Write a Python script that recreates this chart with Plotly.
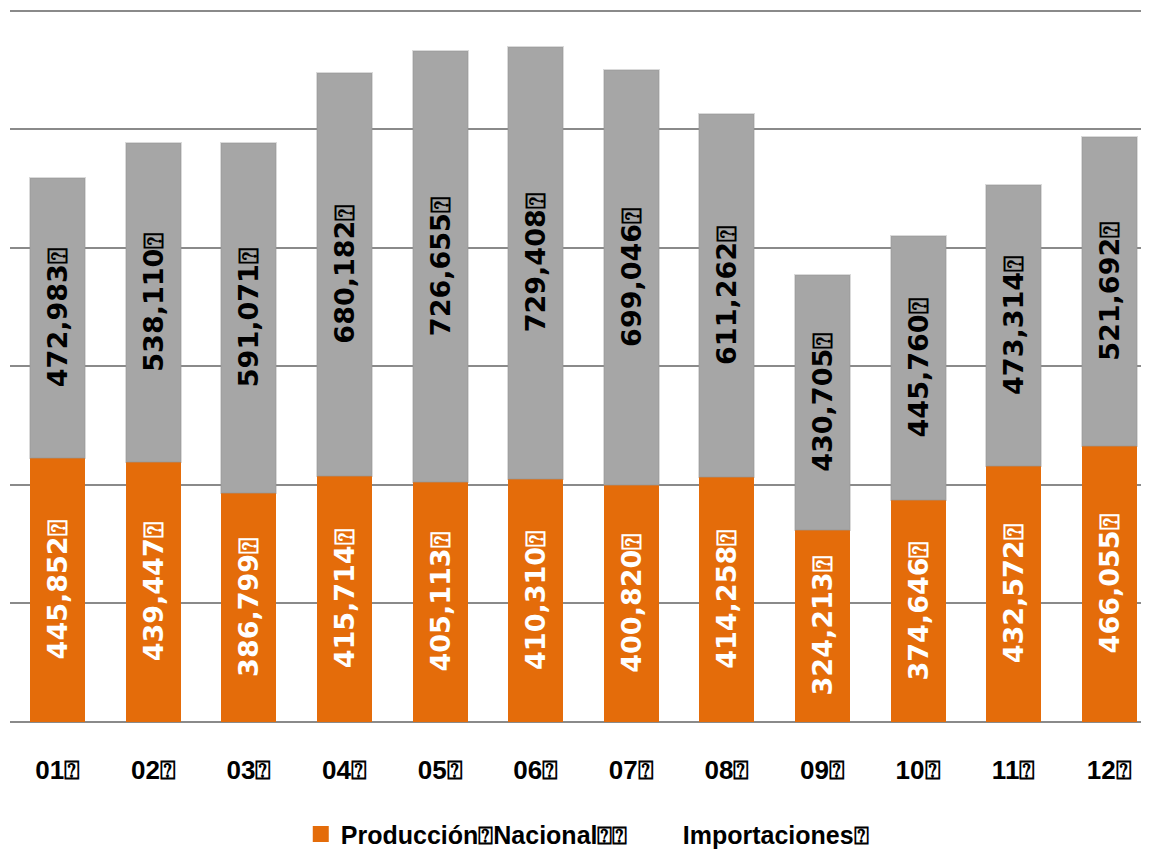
import plotly.graph_objects as go

Q = "\u2370"  # boxed question mark, as rendered in the source

months = ["01", "02", "03", "04", "05", "06", "07", "08", "09", "10", "11", "12"]
produccion = [445852, 439447, 386799, 415714, 405113, 410310,
              400820, 414258, 324213, 374646, 432572, 466055]
importaciones = [472983, 538110, 591071, 680182, 726655, 729408,
                 699046, 611262, 430705, 445760, 473314, 521692]

cats = [m + Q for m in months]
ORANGE = "#E46C0A"
GRAY = "#A6A6A6"
label_font = "DejaVu Sans, Verdana, sans-serif"
cat_font = "Liberation Sans Narrow, Arial Narrow, sans-serif"

fig = go.Figure()
fig.add_trace(go.Bar(
    x=cats, y=produccion, showlegend=False,
    marker=dict(color=ORANGE, line=dict(width=0)),
    text=[f"{v:,}{Q}" for v in produccion],
    textposition="inside", insidetextanchor="middle", textangle=-90,
    textfont=dict(family=label_font, size=27, color="white", weight="bold"),
    constraintext="none",
))
fig.add_trace(go.Bar(
    x=cats, y=importaciones, showlegend=False,
    marker=dict(color=GRAY, line=dict(width=2, color="rgba(150,150,150,0.35)")),
    text=[f"{v:,}{Q}" for v in importaciones],
    textposition="inside", insidetextanchor="middle", textangle=-90,
    textfont=dict(family=label_font, size=27, color="black", weight="bold"),
    constraintext="none",
))
# legend entries
fig.add_trace(go.Scatter(
    x=[None], y=[None], mode="markers", name="Producción" + Q + "Nacional" + Q + Q,
    marker=dict(symbol="square", size=18, color=ORANGE),
))
fig.add_trace(go.Scatter(
    x=[None], y=[None], mode="markers", name="Importaciones" + Q,
    marker=dict(symbol="square", size=18, color="rgba(0,0,0,0)"),
))

fig.update_layout(
    width=1149, height=850,
    barmode="stack", bargap=0.425,
    plot_bgcolor="white", paper_bgcolor="white",
    margin=dict(l=2, r=0, t=0, b=136),
    showlegend=True,
    legend=dict(orientation="h", x=0.2535, xanchor="left", y=-0.125, yanchor="top",
                font=dict(family=cat_font, size=25, color="black", weight="bold"),
                itemsizing="trace", traceorder="normal", entrywidth=297),
    xaxis=dict(showline=False, ticks="", ticklabelstandoff=30,
               tickfont=dict(family=cat_font, size=26, color="black", weight="bold")),
    yaxis=dict(range=[0, 1205000], dtick=200000, showticklabels=False,
               showgrid=True, gridcolor="#8A8A8A", gridwidth=2,
               zeroline=True, zerolinecolor="#8A8A8A", zerolinewidth=2),
)

fig.write_html("out.html")
